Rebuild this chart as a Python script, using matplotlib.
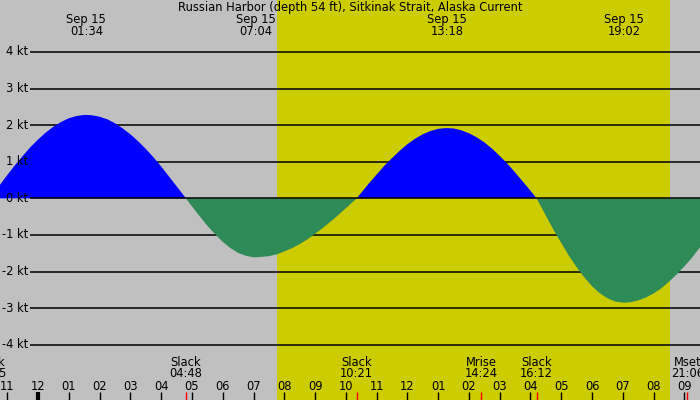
import matplotlib
matplotlib.use("Agg")
import matplotlib.pyplot as plt
from matplotlib.transforms import blended_transform_factory

# ---- data (hours since midnight Sep 15, knots) ----
hours = [-1.57, -1.5, -1.25, -1.0, -0.75, -0.5, -0.25,
         0.0, 0.25, 0.5, 0.75, 1.0, 1.25, 1.5, 1.57, 1.75,
         2.0, 2.25, 2.5, 2.75, 3.0, 3.25, 3.5, 3.75,
         4.0, 4.25, 4.5, 4.75, 4.80, 5.0, 5.25, 5.5, 5.75,
         6.0, 6.25, 6.5, 6.75, 7.0, 7.07, 7.25, 7.5, 7.75,
         8.0, 8.25, 8.5, 8.75, 9.0, 9.25, 9.5, 9.75,
         10.0, 10.25, 10.35, 10.5, 10.75, 11.0, 11.25, 11.5, 11.75,
         12.0, 12.25, 12.5, 12.75, 13.0, 13.25, 13.30, 13.5, 13.75,
         14.0, 14.25, 14.5, 14.75, 15.0, 15.25, 15.5, 15.75,
         16.0, 16.20, 16.25, 16.5, 16.75, 17.0, 17.25, 17.5, 17.75,
         18.0, 18.25, 18.5, 18.75, 19.0, 19.03, 19.25, 19.5, 19.75,
         20.0, 20.25, 20.5, 20.75, 21.0, 21.25, 21.5, 21.75, 22.0]
speed = [0.0, 0.08, 0.36, 0.64, 0.91, 1.16, 1.40,
         1.61, 1.80, 1.96, 2.09, 2.19, 2.25, 2.28, 2.28, 2.27,
         2.23, 2.16, 2.05, 1.91, 1.75, 1.56, 1.35, 1.12,
         0.87, 0.60, 0.33, 0.06, 0.0, -0.22, -0.49, -0.75, -0.98,
         -1.19, -1.36, -1.49, -1.57, -1.61, -1.61, -1.60, -1.58, -1.53,
         -1.45, -1.36, -1.25, -1.12, -0.97, -0.81, -0.64, -0.46,
         -0.27, -0.08, 0.0, 0.15, 0.41, 0.65, 0.89, 1.10, 1.30,
         1.48, 1.63, 1.75, 1.84, 1.90, 1.92, 1.92, 1.91, 1.86,
         1.78, 1.67, 1.53, 1.36, 1.16, 0.95, 0.71, 0.46,
         0.21, 0.0, -0.08, -0.47, -0.86, -1.22, -1.57, -1.88, -2.16,
         -2.40, -2.59, -2.73, -2.82, -2.85, -2.85, -2.84, -2.79, -2.71,
         -2.60, -2.46, -2.28, -2.08, -1.86, -1.62, -1.35, -1.07, -0.77]

peak_hours = [1.567, 7.067, 13.30, 19.033]
peak_dates = ["Sep 15", "Sep 15", "Sep 15", "Sep 15"]
peak_times = ["01:34", "07:04", "13:18", "19:02"]

event_hours = [-1.58, 4.80, 10.35, 14.40, 16.20, 21.10]
event_names = ["Slack", "Slack", "Slack", "Mrise", "Slack", "Mset"]
event_times = ["22:25", "04:48", "10:21", "14:24", "16:12", "21:06"]

hour_ticks = list(range(-1, 22))
hour_labels = ["11", "12", "01", "02", "03", "04", "05", "06", "07", "08", "09", "10", "11",
               "12", "01", "02", "03", "04", "05", "06", "07", "08", "09"]

sunrise, sunset = 7.76, 20.52
kt_levels = [4, 3, 2, 1, 0, -1, -2, -3, -4]
kt_labels = ["4 kt", "3 kt", "2 kt", "1 kt", "0 kt", "-1 kt", "-2 kt", "-3 kt", "-4 kt"]

title = "Russian Harbor (depth 54 ft), Sitkinak Strait, Alaska Current"

# ---- figure ----
W, H = 700, 400
fig = plt.figure(figsize=(7, 4), dpi=100)
fig.patch.set_facecolor("#c0c0c0")
ax = fig.add_axes([0, 0, 1, 1])
ax.set_facecolor("#c0c0c0")
ax.set_xlim(-1.24, 21.51)
ax.set_ylim(-5.51, 5.42)
ax.axis("off")

FONT = "DejaVu Sans"
FS = 8.3

ax.axvspan(sunrise, sunset, color="#cccc00", zorder=0, lw=0)

tr_grid = blended_transform_factory(ax.transAxes, ax.transData)
for lv, lb in zip(kt_levels, kt_labels):
    ax.plot([30 / W, 1], [lv, lv], transform=tr_grid, color="black", lw=1.1,
            zorder=4 if lv == 0 else 1, solid_capstyle="butt")
    ax.text(28 / W, lv, lb, transform=tr_grid, ha="right", va="center",
            fontsize=FS, family=FONT, zorder=5)

ax.fill_between(hours, speed, 0, where=[s >= 0 for s in speed], interpolate=True,
                color="#0000ff", lw=0, zorder=3)
ax.fill_between(hours, speed, 0, where=[s <= 0 for s in speed], interpolate=True,
                color="#2e8b57", lw=0, zorder=3)

def fy(py):
    return 1 - py / H

tr_top = blended_transform_factory(ax.transData, ax.transAxes)

ax.text(0.5, fy(8), title, transform=ax.transAxes, ha="center", va="center",
        fontsize=FS, family=FONT, zorder=6)

for h, d, t in zip(peak_hours, peak_dates, peak_times):
    ax.text(h, fy(19.5), d, transform=tr_top, ha="center", va="center", fontsize=FS, family=FONT)
    ax.text(h, fy(31.5), t, transform=tr_top, ha="center", va="center", fontsize=FS, family=FONT)

for h, n, t in zip(event_hours, event_names, event_times):
    ax.text(h, fy(362), n, transform=tr_top, ha="center", va="center", fontsize=FS, family=FONT)
    ax.text(h, fy(373.5), t, transform=tr_top, ha="center", va="center", fontsize=FS, family=FONT)
    ax.plot([h, h], [fy(392), 0], transform=tr_top, color="red", lw=1, zorder=5,
            solid_capstyle="butt")

for h, lb in zip(hour_ticks, hour_labels):
    ax.text(h, fy(386), lb, transform=tr_top, ha="center", va="center", fontsize=FS, family=FONT)
    ax.plot([h, h], [fy(392), 0], transform=tr_top, color="black",
            lw=3 if h == 0 else 1, zorder=4, solid_capstyle="butt")

fig.savefig("out.png", dpi=100, facecolor=fig.get_facecolor())
